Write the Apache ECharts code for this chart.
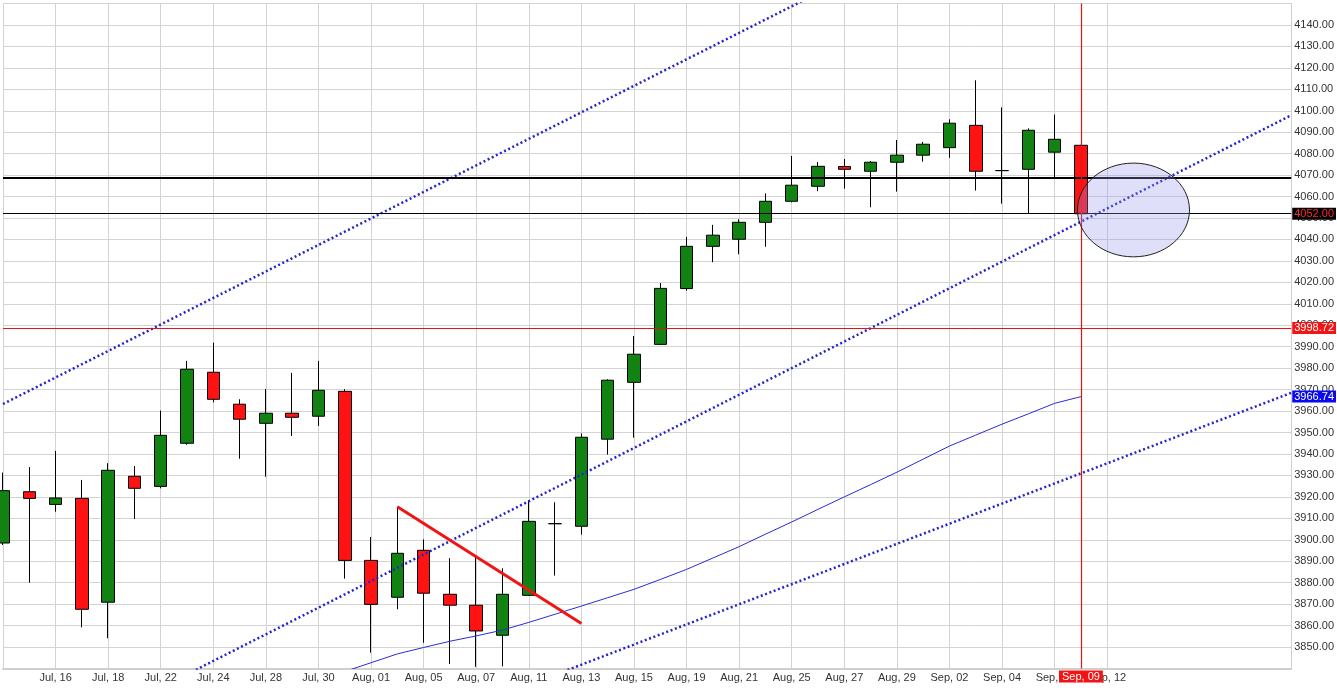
<!DOCTYPE html>
<html>
<head>
<meta charset="utf-8">
<script src="https://cdn.jsdelivr.net/npm/echarts@6/dist/echarts.min.js"></script>
<style>
  html, body { margin: 0; padding: 0; background: #fff; }
  #chart { width: 1337px; height: 698px; }
</style>
</head>
<body>
<div id="chart"></div>
<script>
// trading days shown, plus empty slots to the right
var categories = [
    'Jul, 14', 'Jul, 15', 'Jul, 16', 'Jul, 17', 'Jul, 18', 'Jul, 21', 'Jul, 22', 'Jul, 23', 'Jul, 24', 'Jul, 25',
    'Jul, 28', 'Jul, 29', 'Jul, 30', 'Jul, 31', 'Aug, 01', 'Aug, 04', 'Aug, 05', 'Aug, 06', 'Aug, 07', 'Aug, 08',
    'Aug, 11', 'Aug, 12', 'Aug, 13', 'Aug, 14', 'Aug, 15', 'Aug, 18', 'Aug, 19', 'Aug, 20', 'Aug, 21', 'Aug, 22',
    'Aug, 25', 'Aug, 26', 'Aug, 27', 'Aug, 28', 'Aug, 29', 'Sep, 01', 'Sep, 02', 'Sep, 03', 'Sep, 04', 'Sep, 05',
    'Sep, 08', 'Sep, 09', 'Sep, 12', '', '', '', '', '', '', ''
];

var opens = [3898.5, 3922.4, 3916.5, 3919.3, 3870.9, 3929.6, 3924.9, 3945.0, 3978.1, 3963.2,
    3954.3, 3959.0, 3957.6, 3969.2, 3890.4, 3873.2, 3895.1, 3874.6, 3869.5, 3855.5,
    3874.1, 3907.5, 3906.3, 3946.9, 3973.4, 3991.1, 4017.1, 4036.8, 4040.1, 4048.0,
    4057.8, 4064.8, 4074.0, 4071.8, 4076.0, 4079.3, 4082.8, 4093.2, 4072.1, 4072.7,
    4080.7, 4083.9];
var closes = [3922.9, 3919.3, 3919.5, 3867.6, 3932.4, 3924.0, 3948.7, 3979.5, 3965.5, 3956.2,
    3959.0, 3957.1, 3969.7, 3890.4, 3869.9, 3893.7, 3875.1, 3869.5, 3857.5, 3874.6,
    3908.6, 3907.5, 3947.8, 3974.4, 3986.5, 4017.2, 4036.8, 4042.0, 4048.0, 4057.8,
    4065.3, 4074.1, 4072.7, 4076.0, 4079.3, 4084.4, 4094.2, 4071.8, 4072.1, 4090.9,
    4086.7, 4052.0];
var lows = [3897.6, 3880.0, 3913.1, 3859.2, 3854.1, 3909.7, 3924.0, 3944.3, 3964.1, 3937.8,
    3929.4, 3948.4, 3953.1, 3881.9, 3847.4, 3867.6, 3852.0, 3842.1, 3840.8, 3841.0,
    3873.8, 3883.3, 3902.4, 3939.7, 3947.6, 3990.8, 4016.1, 4029.4, 4033.1, 4036.6,
    4057.3, 4062.5, 4063.7, 4055.0, 4062.3, 4076.3, 4078.1, 4062.8, 4056.7, 4052.2,
    4068.5, 4051.9];
var highs = [3931.3, 3933.9, 3941.4, 3927.9, 3935.7, 3934.4, 3960.2, 3983.4, 3991.9, 3965.5,
    3970.3, 3977.8, 3983.4, 3970.2, 3901.3, 3915.4, 3900.2, 3891.4, 3892.1, 3886.7,
    3918.2, 3917.5, 3949.6, 3974.8, 3995.0, 4019.7, 4041.2, 4046.8, 4049.4, 4061.5,
    4078.9, 4076.1, 4077.5, 4076.6, 4086.4, 4085.5, 4096.0, 4114.2, 4101.6, 4091.8,
    4098.2, 4084.1];

// moving average (thin blue line)
var movingAvg = [null, null, null, null, null, null, null, null, null, null,
    null, null, null, 3838.6, 3842.7, 3846.8, 3849.8, 3852.7, 3855.2, 3857.9,
    3861.5, 3865.3, 3869.1, 3873.0, 3876.9, 3881.5, 3886.2, 3891.5, 3896.8, 3902.6,
    3908.3, 3914.2, 3920.0, 3925.7, 3931.5, 3937.6, 3943.7, 3948.8, 3953.9, 3958.7,
    3963.6, 3966.74];

// drawn studies: [category index, price]
var upperChannel = [[0, 3963.3], [49, 4266.1]];
var middleChannel = [[0, 3793.9], [49, 4097.9]];
var lowerChannel = [[20, 3832.4], [49, 3968.5]];
var redTrend = [[15, 3915.4], [22, 3861.0]];

var resistance = 4068.8;
var lastClose = 4052.00;
var crossPrice = 3998.72;
var maLast = 3966.74;
var crossDate = 'Sep, 09';

// ellipse: centre index, centre price, half width in bars, top / bottom price
var ellipseCenter = [43, 4053.7];
var ellipseHalfBars = 2.13;
var ellipsePrices = [4075.6, 4031.9];

var yTicks = { min: 3840, max: 4150, step: 10 };

var candles = opens.map(function(o, i) {
    return [o, closes[i], lows[i], highs[i]];
});

var fontFamily = '"Liberation Sans", Arial, sans-serif';
var dotted = { color: '#2424cc', width: 2.5, type: [2, 2.6] };
var crossRed = '#e01414';

function tag(text, bg, fg) {
    return {
        show: true,
        position: 'end',
        distance: 1,
        formatter: text,
        color: fg,
        backgroundColor: bg,
        fontSize: 11,
        lineHeight: 11,
        fontFamily: fontFamily,
        padding: [1, 2, 0, 2]
    };
}

var chart = echarts.init(document.getElementById('chart'));

chart.setOption({
    animation: false,
    backgroundColor: '#fff',
    grid: { left: 3, right: 43, top: 3.5, bottom: 29.5 },
    xAxis: {
        type: 'category',
        data: categories,
        boundaryGap: false,
        axisLine: { lineStyle: { color: '#cfcfcf', width: 2 } },
        axisTick: { show: false },
        axisLabel: {
            color: '#333',
            fontSize: 11,
            fontFamily: fontFamily,
            margin: 4,
            interval: function(index, value) {
                return index > 0 && index % 2 === 0 && value !== '';
            }
        },
        splitLine: {
            show: true,
            interval: function(index, value) {
                return index % 2 === 0 && value !== '';
            },
            lineStyle: { color: '#d3d3d3', width: 1 }
        }
    },
    yAxis: {
        type: 'value',
        position: 'right',
        min: yTicks.min,
        max: yTicks.max,
        interval: yTicks.step,
        axisLine: { show: true, lineStyle: { color: '#cfcfcf', width: 1 } },
        axisTick: { show: false },
        axisLabel: {
            color: '#333',
            fontSize: 11,
            fontFamily: fontFamily,
            margin: 3,
            showMinLabel: false,
            showMaxLabel: false,
            formatter: function(v) { return v.toFixed(2); }
        },
        splitLine: { lineStyle: { color: '#d3d3d3', width: 1 } }
    },
    series: [
        {
            type: 'candlestick',
            data: candles,
            barWidth: 13,
            itemStyle: {
                color: '#128212',
                color0: '#ff1212',
                borderColor: '#000',
                borderColor0: '#000',
                borderColorDoji: '#000',
                borderWidth: 1
            },
            z: 2
        },
        {
            type: 'line',
            data: movingAvg,
            showSymbol: false,
            lineStyle: { color: '#2b2bd9', width: 1 },
            z: 3
        },
        {
            type: 'line',
            data: upperChannel,
            showSymbol: false,
            lineStyle: dotted,
            z: 4
        },
        {
            type: 'line',
            data: middleChannel,
            showSymbol: false,
            lineStyle: dotted,
            z: 4
        },
        {
            type: 'line',
            data: lowerChannel,
            showSymbol: false,
            lineStyle: dotted,
            z: 4
        },
        {
            type: 'line',
            data: redTrend,
            showSymbol: false,
            lineStyle: { color: '#ee1515', width: 3 },
            z: 5,
            markLine: {
                silent: true,
                symbol: ['none', 'none'],
                animation: false,
                lineStyle: { color: '#000', width: 1, type: 'solid' },
                data: [
                    {
                        yAxis: resistance,
                        lineStyle: { color: '#000', width: 2, type: 'solid' },
                        label: { show: false }
                    },
                    {
                        yAxis: lastClose,
                        lineStyle: { color: '#000', width: 1, type: 'solid' },
                        label: tag(lastClose.toFixed(2), '#000', '#ff2a2a')
                    },
                    {
                        yAxis: crossPrice,
                        lineStyle: { color: crossRed, width: 1, type: 'solid' },
                        label: tag(crossPrice.toFixed(2), '#f21414', '#fff')
                    },
                    {
                        yAxis: maLast,
                        lineStyle: { color: 'rgba(0,0,0,0)', width: 0 },
                        label: tag(maLast.toFixed(2), '#0a0aee', '#fff')
                    }
                ]
            }
        },
        {
            // crosshair date line
            type: 'line',
            data: [],
            z: 6,
            markLine: {
                silent: true,
                symbol: ['none', 'none'],
                animation: false,
                lineStyle: { color: crossRed, width: 1.2, type: 'solid', opacity: 1 },
                label: {
                    show: true,
                    position: 'start',
                    distance: 2,
                    formatter: crossDate,
                    color: '#fff',
                    backgroundColor: '#f21414',
                    fontSize: 11,
                    lineHeight: 11,
                    fontFamily: fontFamily,
                    padding: [1, 3, 0, 3]
                },
                data: [{ xAxis: crossDate }]
            }
        }
    ]
});

// ellipse highlight, placed through the chart's own scales
function drawEllipse() {
    var c = chart.convertToPixel({ xAxisIndex: 0, yAxisIndex: 0 }, ellipseCenter);
    var next = chart.convertToPixel({ xAxisIndex: 0, yAxisIndex: 0 }, [ellipseCenter[0] + 1, ellipseCenter[1]]);
    var top = chart.convertToPixel({ xAxisIndex: 0, yAxisIndex: 0 }, [ellipseCenter[0], ellipsePrices[0]]);
    var bottom = chart.convertToPixel({ xAxisIndex: 0, yAxisIndex: 0 }, [ellipseCenter[0], ellipsePrices[1]]);
    chart.setOption({
        graphic: [{
            type: 'ellipse',
            shape: {
                cx: c[0],
                cy: (top[1] + bottom[1]) / 2,
                rx: (next[0] - c[0]) * ellipseHalfBars,
                ry: (bottom[1] - top[1]) / 2
            },
            style: {
                fill: 'rgba(150,150,235,0.3)',
                stroke: '#222',
                lineWidth: 1
            },
            z: 10
        }]
    });
}
drawEllipse();
</script>
</body>
</html>
